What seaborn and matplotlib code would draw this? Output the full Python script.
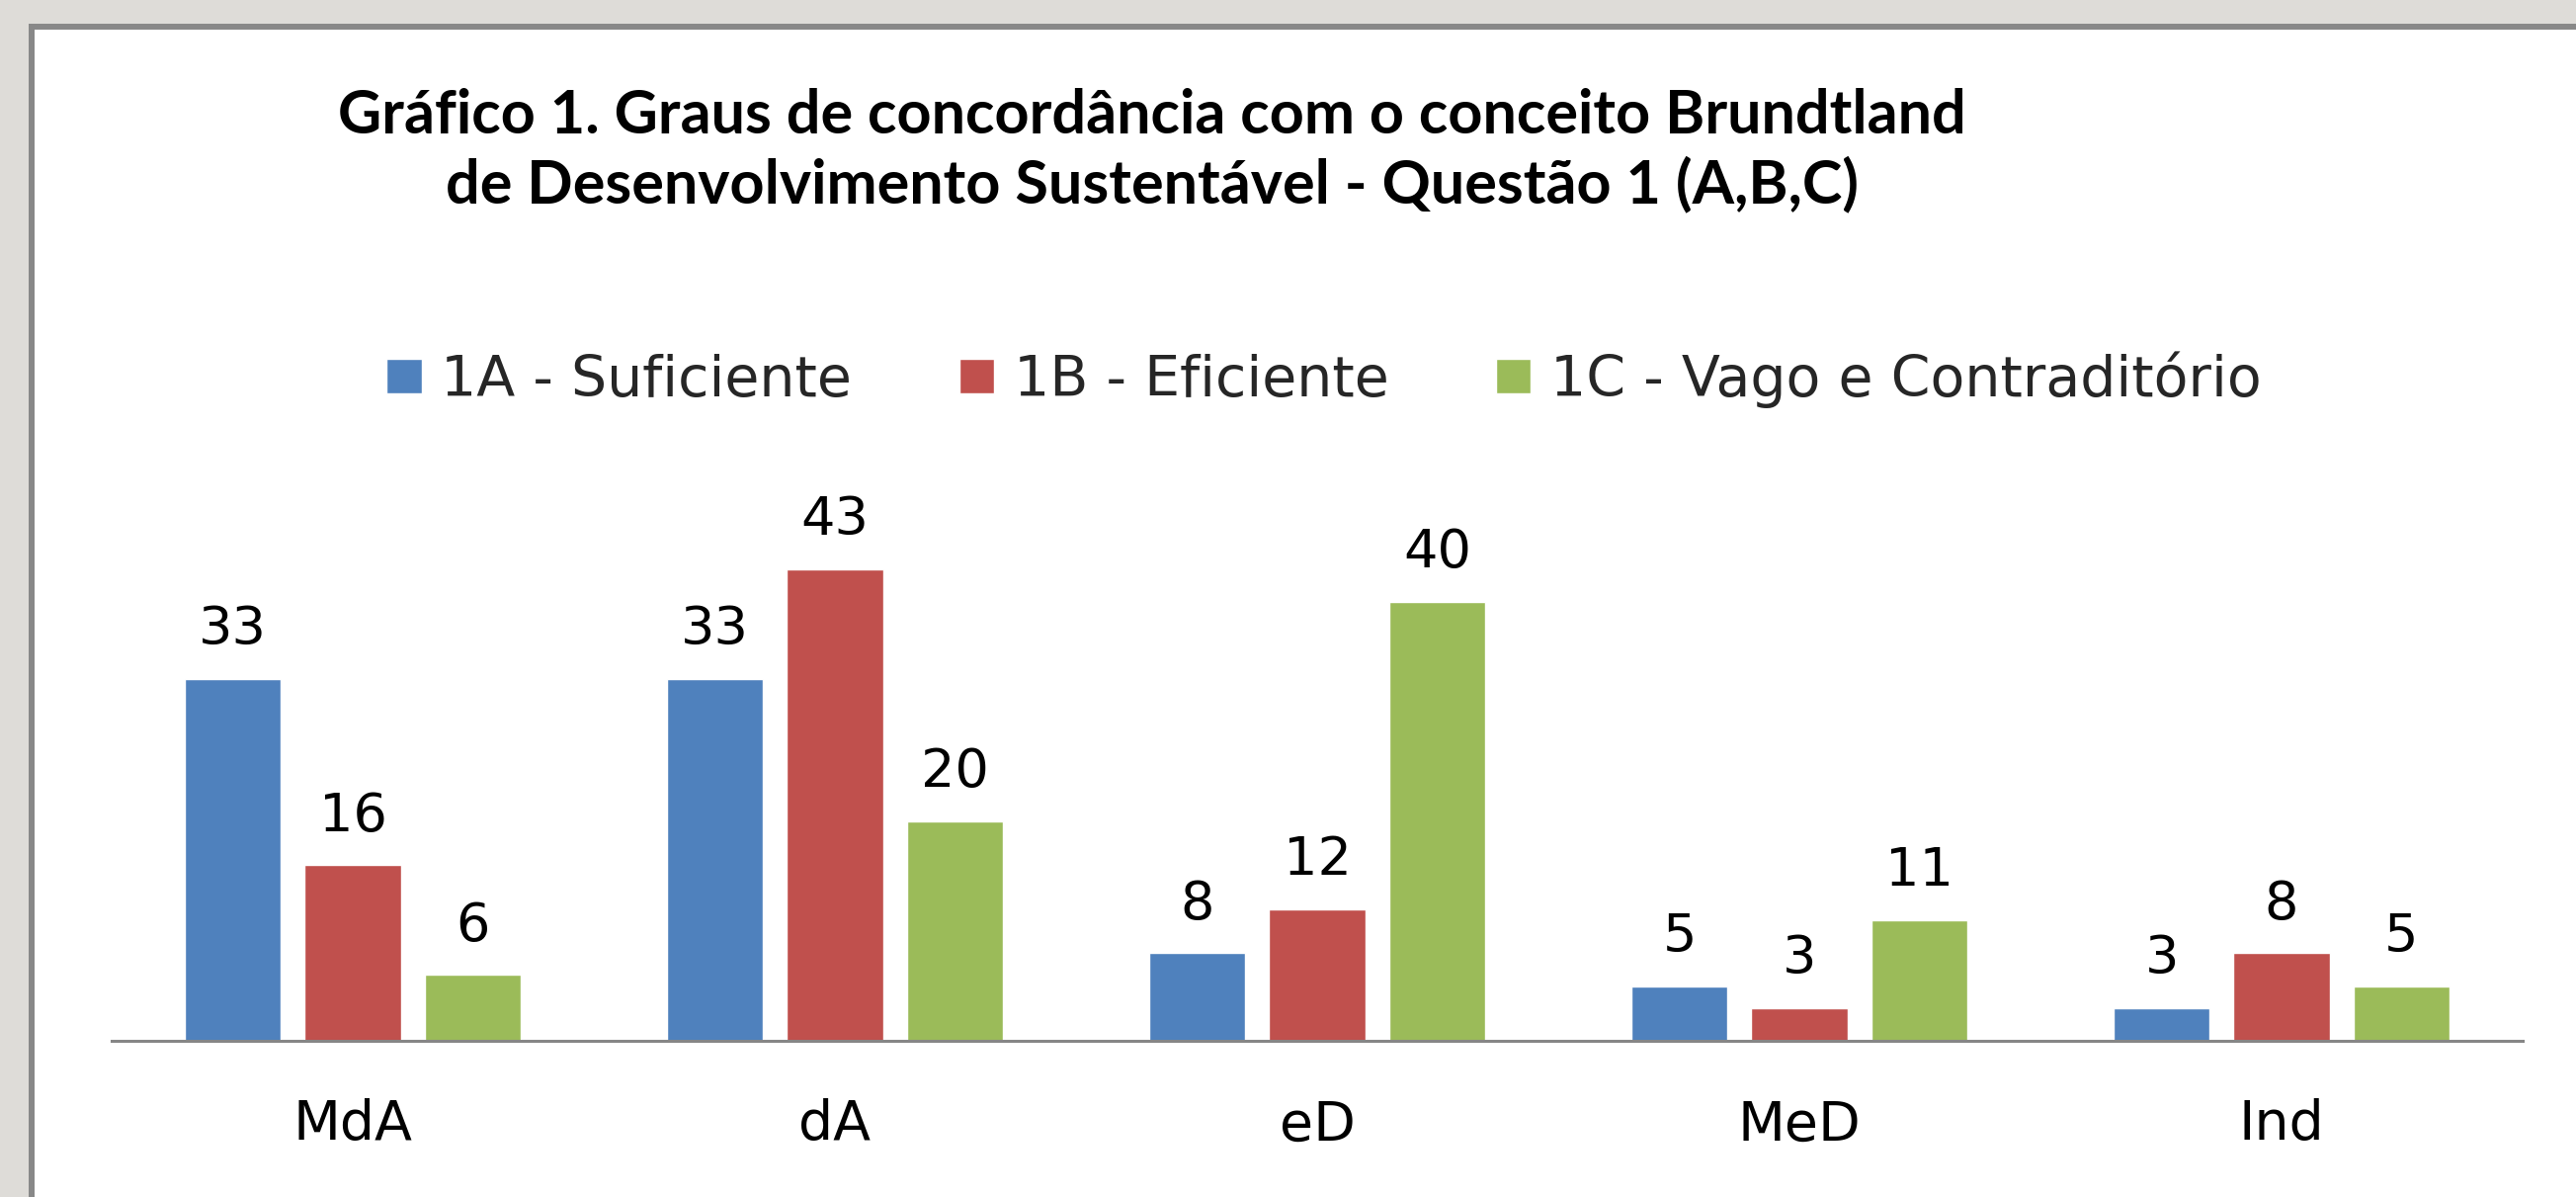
"""Gráfico 1 - graus de concordância com o conceito Brundtland."""

import matplotlib.pyplot as plt
import pandas as pd
import seaborn as sns
from matplotlib.patches import Rectangle

sns.set_theme(style="white")
plt.rcParams['font.family'] = ['DejaVu Sans']

# ------------------------------------------------------------
# Data
# ------------------------------------------------------------
categories = ["MdA", "dA", "eD", "MeD", "Ind"]
series_names = ["1A - Suficiente", "1B - Eficiente", "1C - Vago e Contraditório"]
vals_1a = [33, 33, 8, 5, 3]
vals_1b = [16, 43, 12, 3, 8]
vals_1c = [6, 20, 40, 11, 5]
colors = ["#4F81BD", "#C0504D", "#9BBB59"]

rows = []
for name, vals in zip(series_names, [vals_1a, vals_1b, vals_1c]):
    for cat, v in zip(categories, vals):
        rows.append({"Categoria": cat, "Valor": v, "Série": name})
df = pd.DataFrame(rows)

W, H = 2607, 1211
fig = plt.figure(figsize=(W / 100, H / 100), dpi=100)
fig.patch.set_facecolor("#dedcd8")

# white chart panel with grey frame
panel = Rectangle((32 / W, -0.1), 1.2, 1 - 26.5 / H + 0.1,
                  transform=fig.transFigure, facecolor="white",
                  edgecolor="#888888", linewidth=4.3, zorder=-10)
fig.patches.append(panel)

ax = fig.add_axes([113 / W, (H - 1053) / H, 2440 / W, (1053 - 498) / H])
ax.set_facecolor("none")
ax.set_zorder(2)

sns.barplot(
    data=df, x="Categoria", y="Valor", hue="Série",
    hue_order=series_names, order=categories, palette=colors,
    width=0.746, gap=0.2, saturation=1, ax=ax,
)

handles, labels = ax.get_legend_handles_labels()
ax.get_legend().remove()

for container in ax.containers:
    ax.bar_label(container, padding=17, fontsize=39, color="black")

ax.set_ylim(0, 50)
ax.set_xlim(-0.5, 4.5)
ax.set_xlabel("")
ax.set_ylabel("")
ax.set_yticks([])
for side in ["top", "left", "right"]:
    ax.spines[side].set_visible(False)
ax.spines["bottom"].set_color("#868686")
ax.spines["bottom"].set_linewidth(2.2)
ax.tick_params(axis="x", length=0, pad=42, labelsize=40, labelcolor="black")

fig.legend(
    handles, labels, loc="center", bbox_to_anchor=(1340 / W, 1 - 384 / H),
    ncol=3, frameon=False, fontsize=41, handlelength=0.62, handleheight=0.58,
    handletextpad=0.35, columnspacing=1.9,
)

fig.text(
    1166 / W, 1 - 152 / H,
    "Gráfico 1. Graus de concordância com o conceito Brundtland\n"
    "de Desenvolvimento Sustentável - Questão 1 (A,B,C)",
    ha="center", va="center", fontsize=44, fontweight="bold",
    family=["Lato", "DejaVu Sans"], linespacing=1.25, color="black",
)

fig.savefig("out.png", dpi=100, facecolor=fig.get_facecolor())
